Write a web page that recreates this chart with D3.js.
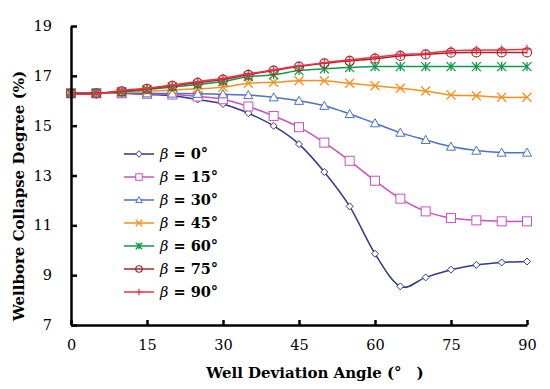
<!DOCTYPE html>
<html><head><meta charset="utf-8">
<script src="https://cdn.jsdelivr.net/npm/d3@7"></script>
<style>body{margin:0;background:#fff}svg{display:block}
.sf{font-family:"DejaVu Serif",serif}
</style>
</head><body>
<svg id="c" width="550" height="389"></svg>
<script>
const angles = [0,5,10,15,20,25,30,35,40,45,50,55,60,65,70,75,80,85,90];
const seriesNames = ["β = 0°","β = 15°","β = 30°","β = 45°","β = 60°","β = 75°","β = 90°"];
const beta0  = [16.3,16.3,16.3,16.25,16.2,16.05,15.87,15.5,14.99,14.26,13.14,11.76,9.86,8.55,8.91,9.22,9.41,9.51,9.55];
const beta15 = [16.3,16.3,16.3,16.28,16.25,16.17,16.06,15.77,15.39,14.94,14.32,13.59,12.79,12.07,11.56,11.29,11.2,11.16,11.16];
const beta30 = [16.3,16.3,16.3,16.3,16.29,16.28,16.26,16.23,16.14,16.0,15.8,15.47,15.1,14.72,14.43,14.16,14.0,13.92,13.92];
const beta45 = [16.3,16.3,16.33,16.38,16.43,16.48,16.54,16.7,16.74,16.8,16.8,16.7,16.6,16.5,16.39,16.23,16.2,16.14,16.14];
const beta60 = [16.3,16.3,16.36,16.45,16.55,16.65,16.77,16.97,17.04,17.21,17.28,17.33,17.37,17.37,17.37,17.37,17.37,17.37,17.37];
const beta75 = [16.3,16.3,16.38,16.48,16.6,16.72,16.85,17.04,17.21,17.37,17.5,17.6,17.69,17.8,17.86,17.93,17.94,17.94,17.94];
const beta90 = [16.27,16.27,16.41,16.5,16.63,16.77,16.9,17.08,17.24,17.4,17.53,17.64,17.75,17.86,17.9,18.01,18.03,18.04,18.07];
const allSeries = [beta0,beta15,beta30,beta45,beta60,beta75,beta90];
const colors = ["#2e3a8c","#cc4fc4","#4a72c8","#f7901e","#0f9a4a","#a8242c","#ee3344"];
const markers = ["diamond","square","triangle","x","star","circle","plus"];
const xTicks = [0,15,30,45,60,75,90];
const yTicks = [7,9,11,13,15,17,19];

const svg = d3.select("#c");
const x = d3.scaleLinear().domain([0,90]).range([71,527]);
const y = d3.scaleLinear().domain([7,19]).range([325,26]);

const line = d3.line().x((d,i)=>x(angles[i])).y(d=>y(d)).curve(d3.curveCatmullRom.alpha(0));

function drawMarker(g, type, cx, cy, s, color){
  const h = s/2;
  if(type==="diamond"){
    g.append("path").attr("d",`M${cx},${cy-h}L${cx+h},${cy}L${cx},${cy+h}L${cx-h},${cy}Z`).attr("fill","#fff").attr("stroke",color).attr("stroke-width",1);
  } else if(type==="square"){
    g.append("rect").attr("x",cx-h).attr("y",cy-h).attr("width",s).attr("height",s).attr("fill","#fff").attr("stroke",color).attr("stroke-width",1);
  } else if(type==="triangle"){
    g.append("path").attr("d",`M${cx},${cy-h}L${cx+h},${cy+h*0.8}L${cx-h},${cy+h*0.8}Z`).attr("fill","#fff").attr("stroke",color).attr("stroke-width",1);
  } else if(type==="x"){
    g.append("path").attr("d",`M${cx-h},${cy-h}L${cx+h},${cy+h}M${cx-h},${cy+h}L${cx+h},${cy-h}`).attr("stroke",color).attr("stroke-width",1.3).attr("fill","none");
  } else if(type==="star"){
    g.append("path").attr("d",`M${cx-h},${cy-h}L${cx+h},${cy+h}M${cx-h},${cy+h}L${cx+h},${cy-h}M${cx},${cy-h}L${cx},${cy+h}`).attr("stroke",color).attr("stroke-width",1.3).attr("fill","none");
  } else if(type==="circle"){
    g.append("circle").attr("cx",cx).attr("cy",cy).attr("r",h).attr("fill","#fff").attr("fill-opacity",0).attr("stroke",color).attr("stroke-width",1.2);
  } else if(type==="plus"){
    g.append("path").attr("d",`M${cx-h},${cy}L${cx+h},${cy}M${cx},${cy-h}L${cx},${cy+h}`).attr("stroke",color).attr("stroke-width",1.2).attr("fill","none");
  }
}

allSeries.forEach((vals,si)=>{
  const g = svg.append("g");
  g.append("path").attr("d",line(vals)).attr("fill","none").attr("stroke",colors[si]).attr("stroke-width",1.5);
  vals.forEach((v,i)=>drawMarker(g, markers[si], x(angles[i]), y(v), si===0?7:9, colors[si]));
});

const xAxis = d3.axisBottom(x).tickValues(xTicks).tickSizeInner(-5).tickSizeOuter(0).tickPadding(12);
const yAxis = d3.axisLeft(y).tickValues(yTicks).tickSizeInner(-6).tickSizeOuter(0).tickPadding(19);
const gx = svg.append("g").attr("transform","translate(0,325)").call(xAxis);
const gy = svg.append("g").attr("transform","translate(71,0)").call(yAxis);
[gx,gy].forEach(g=>{
  g.attr("font-family",null).attr("font-size",null);
  g.select(".domain").attr("stroke","#000").attr("stroke-width",2.5);
  g.selectAll(".tick line").attr("stroke","#000").attr("stroke-width",2.5);
  g.selectAll(".tick text").attr("class","sf").style("font-size","14.5px").attr("fill","#000");
});
gx.selectAll(".tick text").attr("dy","0.9em");

svg.append("text").attr("class","sf").attr("x",315).attr("y",378).attr("text-anchor","middle")
  .style("font-weight","bold").style("font-size","15px").text("Well Deviation Angle (°\u2003)");
svg.append("text").attr("class","sf").attr("transform","translate(24,196) rotate(-90)").attr("text-anchor","middle")
  .style("font-weight","bold").style("font-size","15px").text("Wellbore Collapse Degree (%)");

const lg = svg.append("g");
seriesNames.forEach((name,i)=>{
  const ly = 154 + i*23;
  lg.append("line").attr("x1",124).attr("x2",154).attr("y1",ly).attr("y2",ly).attr("stroke",colors[i]).attr("stroke-width",1.5);
  drawMarker(lg, markers[i], 139, ly, 6.5, colors[i]);
  const parts = name.split(" ");
  const t = lg.append("text").attr("class","sf").attr("x",160).attr("y",ly+5).style("font-size","14.5px").attr("fill","#000");
  t.append("tspan").style("font-style","italic").text(parts[0]);
  t.append("tspan").style("font-weight","bold").text(" " + parts.slice(1).join(" "));
});
</script>
</body></html>
